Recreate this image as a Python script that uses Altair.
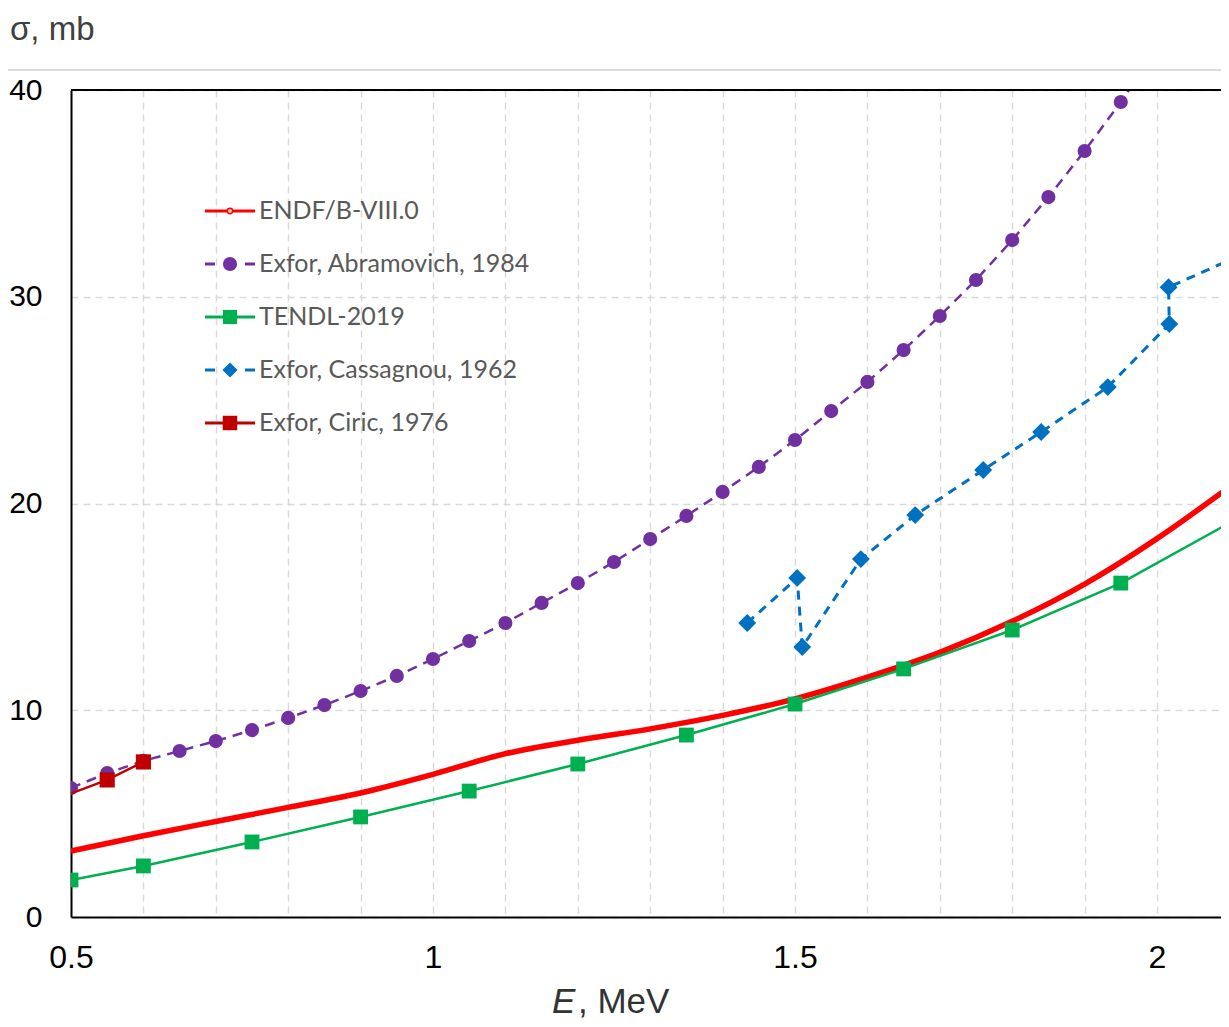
import altair as alt
import pandas as pd

# ---------------- data ----------------
endf_x = [0.5, 0.6, 0.7, 0.8, 0.9, 1.0, 1.1, 1.2, 1.3, 1.4, 1.5, 1.6, 1.7, 1.8, 1.9, 2.0, 2.1]
endf_y = [3.19, 3.93, 4.62, 5.30, 6.00, 6.90, 7.90, 8.55, 9.10, 9.75, 10.55, 11.60, 12.80, 14.30, 16.10, 18.30, 20.80]

abr_x = [0.5, 0.55, 0.6, 0.65, 0.7, 0.75, 0.8, 0.85, 0.9, 0.95, 1.0, 1.05, 1.1, 1.15, 1.2,
         1.25, 1.3, 1.35, 1.4, 1.45, 1.5, 1.55, 1.6, 1.65, 1.7, 1.75, 1.8, 1.85, 1.9, 1.95, 2.0]
abr_y = [6.24, 6.96, 7.55, 8.03, 8.51, 9.04, 9.63, 10.25, 10.93, 11.66, 12.48, 13.35, 14.22, 15.19, 16.15,
         17.17, 18.28, 19.40, 20.56, 21.77, 23.07, 24.47, 25.88, 27.42, 29.07, 30.81, 32.74, 34.82, 37.05, 39.42, 42.0]

tendl_x = [0.5, 0.6, 0.75, 0.9, 1.05, 1.2, 1.35, 1.5, 1.65, 1.8, 1.95, 2.1]
tendl_y = [1.79, 2.47, 3.63, 4.84, 6.09, 7.40, 8.80, 10.30, 12.00, 13.88, 16.15, 19.06]

cas_x = [1.434, 1.503, 1.510, 1.591, 1.666, 1.760, 1.840, 1.932, 2.017, 2.016, 2.12]
cas_y = [14.22, 16.40, 13.06, 17.31, 19.44, 21.62, 23.46, 25.63, 28.68, 30.46, 32.08]

cir_x = [0.45, 0.55, 0.6]
cir_y = [5.32, 6.63, 7.50]

series_names = ["ENDF/B-VIII.0", "Exfor, Abramovich, 1984", "TENDL-2019",
                "Exfor, Cassagnou, 1962", "Exfor, Ciric, 1976"]

x_ticks = [0.5, 0.6, 0.7, 0.8, 0.9, 1.0, 1.1, 1.2, 1.3, 1.4, 1.5, 1.6, 1.7, 1.8, 1.9, 2.0]
y_ticks = [0, 10, 20, 30, 40]

# ---------------- layout ----------------
W, H = 1150, 827
PX_PER_UNIT = 724.0
x_max = 0.5 + W / PX_PER_UNIT

C_RED = "#FF0000"
C_PUR = "#7030A0"
C_GRN = "#00B050"
C_BLU = "#0070C0"
C_DRD = "#C00000"

xscale = alt.Scale(domain=[0.5, x_max], nice=False, zero=False)
yscale = alt.Scale(domain=[0, 40], nice=False, zero=True)

xaxis = alt.Axis(values=x_ticks, title=None, grid=True, gridDash=[7, 5], gridColor="#D9D9D9",
                 gridWidth=1.5, domainColor="black", domainWidth=2, ticks=False,
                 labelFont="Liberation Sans", labelFontSize=32, labelColor="black",
                 labelPadding=25, labelFlush=False, labelOverlap=False,
                 labelExpr="abs(datum.value*2 - round(datum.value*2)) < 0.001 ? format(datum.value, '~g') : ''")
yaxis = alt.Axis(values=y_ticks, title=None, grid=True, gridDash=[7, 5], gridColor="#D9D9D9",
                 gridWidth=1.5, domainColor="black", domainWidth=2, ticks=False,
                 labelFont="Liberation Sans", labelFontSize=30, labelColor="black",
                 labelPadding=29, labelFlush=False, labelOverlap=False)

X = alt.X("E:Q", scale=xscale, axis=xaxis)
Y = alt.Y("s:Q", scale=yscale, axis=yaxis)

def df(xs, ys):
    return pd.DataFrame({"E": xs, "s": ys, "o": list(range(len(xs)))})

endf = alt.Chart(df(endf_x, endf_y)).mark_line(
    color=C_RED, strokeWidth=5.5, interpolate="monotone", clip=True
).encode(x=X, y=Y, order="o:Q")

abr = alt.Chart(df(abr_x, abr_y)).mark_line(
    color=C_PUR, strokeWidth=2.5, strokeDash=[10, 7], clip=True,
    point=alt.OverlayMarkDef(shape="circle", filled=True, size=200, color=C_PUR, opacity=1)
).encode(x=X, y=Y, order="o:Q")

tendl = alt.Chart(df(tendl_x, tendl_y)).mark_line(
    color=C_GRN, strokeWidth=2.5, clip=True,
    point=alt.OverlayMarkDef(shape="square", filled=True, size=220, color=C_GRN, opacity=1)
).encode(x=X, y=Y, order="o:Q")

cas = alt.Chart(df(cas_x, cas_y)).mark_line(
    color=C_BLU, strokeWidth=3, strokeDash=[9, 7], clip=True,
    point=alt.OverlayMarkDef(shape="diamond", filled=True, size=320, color=C_BLU, opacity=1)
).encode(x=X, y=Y, order="o:Q")

cir = alt.Chart(df(cir_x, cir_y)).mark_line(
    color=C_DRD, strokeWidth=2.5, clip=True,
    point=alt.OverlayMarkDef(shape="square", filled=True, size=230, color=C_DRD, opacity=1)
).encode(x=X, y=Y, order="o:Q")

one = pd.DataFrame({"k": [0]})

top_border = alt.Chart(one).mark_rule(color="black", strokeWidth=2).encode(
    x=alt.value(0), x2=alt.value(W), y=alt.value(0))
top_gray = alt.Chart(one).mark_rule(color="#D0D0D0", strokeWidth=1.5).encode(
    x=alt.value(-71), x2=alt.value(W), y=alt.value(-20))

ytitle = alt.Chart(one).mark_text(align="left", baseline="alphabetic", font="Liberation Sans",
                                  fontSize=33, color="#404040").encode(
    x=alt.value(-61), y=alt.value(-50), text=alt.value("σ, mb"))
xtitle_e = alt.Chart(one).mark_text(align="left", baseline="alphabetic", font="Liberation Sans",
                                    fontSize=35, fontStyle="italic", color="#333333").encode(
    x=alt.value(481), y=alt.value(923), text=alt.value("E"))
xtitle_rest = alt.Chart(one).mark_text(align="left", baseline="alphabetic", font="Liberation Sans",
                                       fontSize=35, color="#333333").encode(
    x=alt.value(507), y=alt.value(923), text=alt.value(", MeV"))

# ---------------- manual legend ----------------
leg_y0 = 121
leg_dy = 53
lx1, lx2, lm, lt = 134, 184, 159, 188
leg_styles = [
    dict(color=C_RED, width=3, dash=None, shape="circle", size=28, filled=False),
    dict(color=C_PUR, width=3, dash=[10, 30, 10], shape="circle", size=200, filled=True),
    dict(color=C_GRN, width=3, dash=None, shape="square", size=200, filled=True),
    dict(color=C_BLU, width=3, dash=[10, 30, 10], shape="diamond", size=230, filled=True),
    dict(color=C_DRD, width=3, dash=None, shape="square", size=210, filled=True),
]
legend_layers = []
for i, (name, st) in enumerate(zip(series_names, leg_styles)):
    yy = leg_y0 + i * leg_dy
    ldf = pd.DataFrame({"label": [name]})
    rule_kw = dict(color=st["color"], strokeWidth=st["width"])
    if st["dash"]:
        rule_kw["strokeDash"] = st["dash"]
    legend_layers.append(alt.Chart(ldf).mark_rule(**rule_kw).encode(
        x=alt.value(lx1), x2=alt.value(lx2), y=alt.value(yy)))
    if st["filled"]:
        pt = alt.Chart(ldf).mark_point(shape=st["shape"], filled=True, size=st["size"],
                                       color=st["color"], opacity=1)
    else:
        pt = alt.Chart(ldf).mark_point(shape=st["shape"], filled=False, size=st["size"],
                                       stroke=st["color"], fill="#FFD0D0", strokeWidth=1.5, opacity=1)
    legend_layers.append(pt.encode(x=alt.value(lm), y=alt.value(yy)))
    legend_layers.append(alt.Chart(ldf).mark_text(align="left", baseline="middle", font="Lato",
                                                  fontSize=25, color="#595959").encode(
        x=alt.value(lt), y=alt.value(yy), text="label:N"))

chart = alt.layer(
    endf, abr, tendl, cas, cir, top_border, top_gray,
    ytitle, xtitle_e, xtitle_rest, *legend_layers
).properties(
    width=W, height=H,
    autosize=alt.AutoSizeParams(type="none"),
    padding={"left": 63, "top": 82, "right": 0, "bottom": 102},
).configure_view(stroke=None).configure(background="white")

chart.save("out.html", embed_options={"renderer": "svg", "actions": False})
